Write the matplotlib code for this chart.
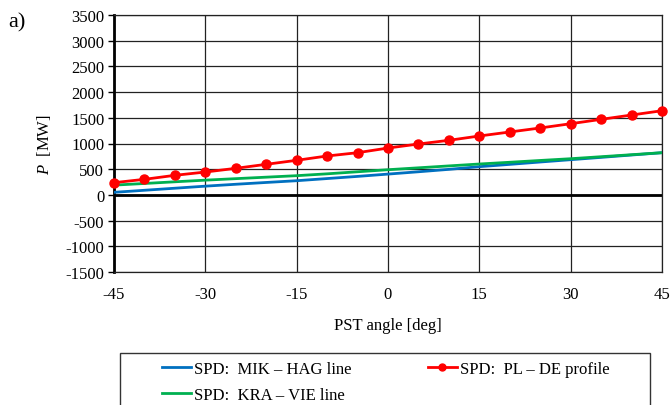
import matplotlib
matplotlib.use("Agg")
import matplotlib.pyplot as plt
from matplotlib.patches import Rectangle
from matplotlib.lines import Line2D

plt.rcParams['font.family'] = ['Liberation Serif', 'DejaVu Serif']
plt.rcParams['mathtext.fontset'] = 'custom'
plt.rcParams['mathtext.it'] = 'Liberation Serif:italic'
plt.rcParams['mathtext.rm'] = 'Liberation Serif'

angles = [-45, -40, -35, -30, -25, -20, -15, -10, -5, 0, 5, 10, 15, 20, 25, 30, 35, 40, 45]
pl_de = [238, 303, 381, 445, 517, 595, 673, 757, 821, 912, 990, 1062, 1146, 1224, 1302, 1385, 1470, 1554, 1638]
mik_hag = [50, 90, 130, 170, 207, 242, 276, 318, 360, 405, 450, 497, 549, 594, 640, 685, 730, 776, 821]
kra_vie = [190, 222, 255, 287, 316, 345, 374, 410, 450, 490, 527, 564, 601, 635, 670, 704, 743, 782, 821]

xticks = [-45, -30, -15, 0, 15, 30, 45]
yticks = list(range(-1500, 3501, 500))

FS = 12
W, H = 672, 406
fig = plt.figure(figsize=(W / 100, H / 100), dpi=100)
ax = fig.add_axes([114 / W, 1 - 273 / H, (662 - 114) / W, (273 - 16) / H])

ax.plot(angles, mik_hag, color='#0070C0', lw=2, label='SPD:  MIK – HAG line', zorder=3)
ax.plot(angles, kra_vie, color='#00B050', lw=2, label='SPD:  KRA – VIE line', zorder=3)
ax.plot(angles, pl_de, color='#FF0000', lw=2, marker='o', ms=6.5, label='SPD:  PL – DE profile',
        zorder=4, clip_on=False)

ax.set_xlim(-45, 45)
ax.set_ylim(-1500, 3500)
ax.set_xticks(xticks)
ax.set_yticks(yticks)
ax.set_xticklabels([str(v) for v in xticks])
ax.set_yticklabels([str(v) for v in yticks])
ax.grid(True, color='#222222', lw=0.9, zorder=1)
ax.axhline(0, color='black', lw=2, zorder=2)
for s in ax.spines.values():
    s.set_color('#222222')
    s.set_linewidth(0.9)
ax.spines['left'].set_color('black')
ax.spines['left'].set_linewidth(2)
ax.tick_params(axis='y', direction='out', length=4, width=1, labelsize=FS, pad=3)
ax.tick_params(axis='x', length=0, labelsize=FS, pad=10)

ax.set_xlabel('PST angle [deg]', fontsize=FS, labelpad=11)
ax.set_ylabel(r'$P$  [MW]', fontsize=FS, labelpad=9)

fig.text(8 / W, 1 - 23 / H, 'a)', fontsize=16, va='center', ha='left')

# legend frame
fig.patches.append(Rectangle((120 / W, -0.1), (650 - 120) / W, (1 - 354 / H) + 0.1,
                             transform=fig.transFigure, fill=False, edgecolor='#333333', lw=1))

h1 = Line2D([], [], color='#0070C0', lw=2)
h2 = Line2D([], [], color='#00B050', lw=2)
h3 = Line2D([], [], color='#FF0000', lw=2, marker='o', ms=5)
leg = fig.legend([h1, h2, h3], ['SPD:  MIK – HAG line', 'SPD:  KRA – VIE line', 'SPD:  PL – DE profile'],
                 loc='upper left', bbox_to_anchor=(162 / W, 1 - 362 / H), ncol=2, frameon=False,
                 fontsize=FS, handlelength=1.75, handletextpad=0.15, columnspacing=4.6,
                 labelspacing=0.6, borderpad=0, borderaxespad=0)

fig.savefig('out.png', dpi=100)
